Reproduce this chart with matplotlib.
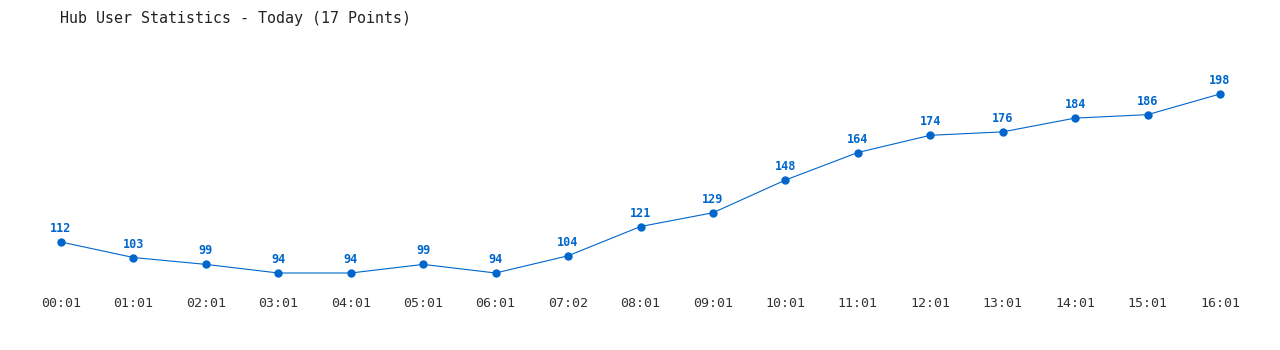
import matplotlib

matplotlib.use("Agg")
import matplotlib.pyplot as plt  # noqa: E402

times = ["00:01", "01:01", "02:01", "03:01", "04:01", "05:01", "06:01", "07:02",
         "08:01", "09:01", "10:01", "11:01", "12:01", "13:01", "14:01", "15:01", "16:01"]
users = [112, 103, 99, 94, 94, 99, 94, 104, 121, 129, 148, 164, 174, 176, 184, 186, 198]
title = "Hub User Statistics - Today (17 Points)"

blue = "#0066cc"
mono = ["DejaVu Sans Mono"]

fig = plt.figure(figsize=(12.8, 3.5), dpi=100)
# axes edges set so first/last point and min/max land where the reference has them
ax = fig.add_axes([61 / 1280, 77 / 350, (1220 - 61) / 1280, (273 - 94) / 350])
x = list(range(len(times)))
ax.plot(x, users, color=blue, linewidth=0.8, marker="o", markersize=5, clip_on=False)
ax.set_xlim(0, len(times) - 1)
ax.set_ylim(min(users), max(users))

for xi, v in zip(x, users):
    ax.annotate(str(v), (xi, v), xytext=(0, 5), textcoords="offset points",
                ha="center", va="bottom", color=blue, fontsize=8.5,
                fontweight="bold", family=mono)

ax.set_xticks(x)
ax.set_xticklabels(times, family=mono, fontsize=9.5, color="#333333")
ax.tick_params(axis="x", length=0, pad=17)
ax.set_yticks([])
for s in ax.spines.values():
    s.set_visible(False)

fig.text(60 / 1280, 1 - 18 / 350, title, ha="left", va="center",
         family=mono, fontsize=10.8, color="#222222")

fig.savefig("out.png", dpi=100, facecolor="white")
plt.close(fig)
